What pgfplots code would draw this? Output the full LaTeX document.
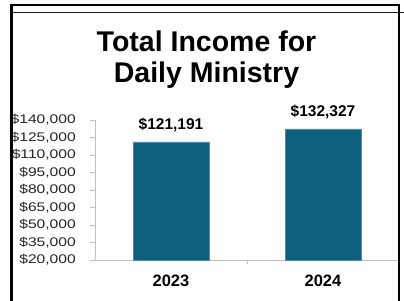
\documentclass[border=0pt]{standalone}
\usepackage{fontspec}
\setmainfont{Liberation Sans}
\newfontfamily\ytickfont[FakeStretch=1.25]{Liberation Sans}
\usepackage{pgfplots}
\pgfplotsset{compat=1.18}
\definecolor{barblue}{RGB}{14,94,126}
\definecolor{baredge}{RGB}{80,140,170}
\definecolor{axgray}{RGB}{191,191,191}
\begin{document}
\begin{tikzpicture}
\path[use as bounding box] (0,0) rectangle (404bp,301bp);
\begin{axis}[
  at={(95bp,41bp)}, anchor=south west,
  width=304bp, height=140bp, scale only axis,
  xmin=-0.5, xmax=1.5, ymin=20000, ymax=140000,
  axis x line=bottom, axis y line=left,
  axis line style={-, draw=axgray, line width=1bp},
  xtick={0,1}, xticklabels={2023,2024},
  major x tick style={draw=none},
  minor xtick={0.5},
  minor x tick style={draw=axgray, line width=0.6bp},
  minor tick length=4bp,
  ytick={20000,35000,...,140000},
  scaled y ticks=false,
  y tick style={draw=axgray, line width=0.6bp},
  major tick length=5bp,
  tick align=outside,
  /pgf/number format/assume math mode=true,
  yticklabel={\$\pgfmathprintnumber[fixed,precision=0,1000 sep={,}]{\tick}},
  yticklabel style={anchor=east, inner sep=0pt, xshift=-14bp, text=black!85, font=\ytickfont\fontsize{12.5bp}{12.5bp}\selectfont},
  xticklabel style={anchor=base, yshift=-21bp, font=\bfseries\fontsize{16.5bp}{16.5bp}\selectfont},
  ybar, bar width=76bp,
  nodes near coords={\$\pgfmathprintnumber[fixed,precision=0,1000 sep={,}]{\pgfplotspointmeta}},
  nodes near coords style={anchor=base, yshift=12.5bp, font=\bfseries\fontsize{15.5bp}{15.5bp}\selectfont},
  clip=false,
]
\addplot[fill=barblue, draw=baredge, line width=0.6bp] coordinates {(0,121191) (1,132327)};
\end{axis}
\node[anchor=base, font=\bfseries\fontsize{28.5bp}{28.5bp}\selectfont] at (206.5bp,249bp) {Total Income for};
\node[anchor=base, font=\bfseries\fontsize{28.5bp}{28.5bp}\selectfont] at (206.5bp,218bp) {Daily Ministry};
\fill[white] (0,0) rectangle (10bp,301bp);
\draw[black!80!gray, line width=1bp] (12.7bp,288.5bp) -- (404bp,288.5bp);
\draw[black, line width=2.7bp] (11.3bp,0) -- (11.3bp,296.5bp);
\draw[black, line width=2bp] (10bp,295.5bp) -- (400bp,295.5bp);
\draw[black, line width=2.5bp] (399bp,0) -- (399bp,296.5bp);
\end{tikzpicture}
\end{document}
